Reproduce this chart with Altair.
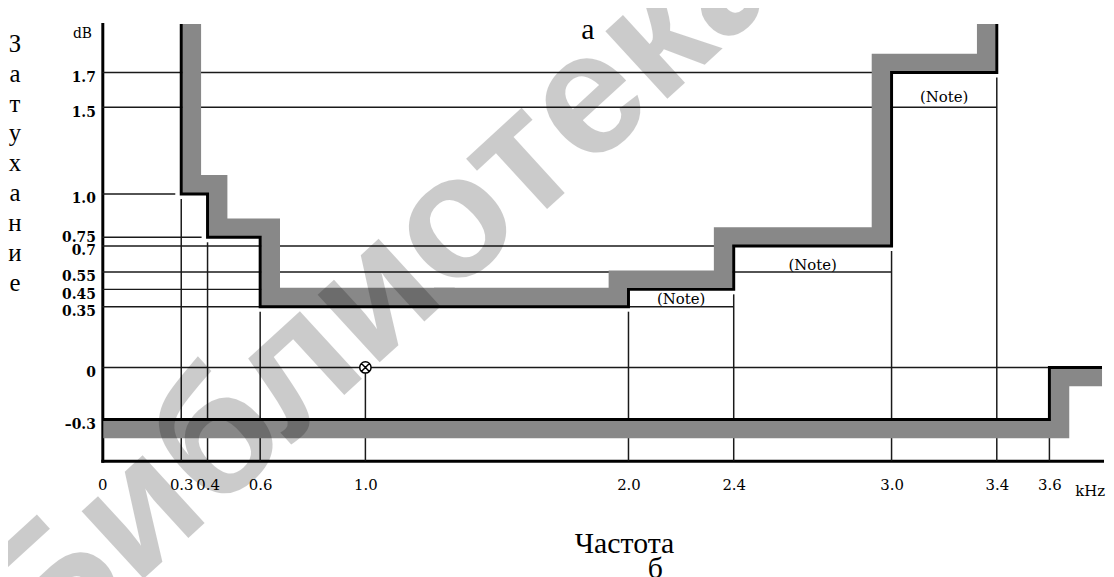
import altair as alt
import pandas as pd

# ---------------- data ----------------
X_MAX = 3.8
Y_MIN = -0.538
Y_MAX = 1.98

# upper mask (attenuation limit), breakpoints in kHz and levels in dB
upper_edges = [0.3, 0.4, 0.6, 2.0, 2.4, 3.0, 3.4]
upper_levels = [1.0, 0.75, 0.35, 0.45, 0.7, 1.7]
# lower mask
lower_edges = [0.0, 3.6, X_MAX]
lower_levels = [-0.3, 0.0]

# thin reference lines
h_short_level = [1.7, 1.0, 0.75, 0.45]
h_short_end = [3.0, 0.3, 0.4, 2.0]
h_full_level = [1.5, 0.7, 0.55, 0.35, 0.0]
h_full_end = [3.4, 3.0, 3.0, 2.4, 3.6]

v_short_f = [0.3, 0.4, 0.6, 2.0, 2.4, 3.0, 3.4]
v_short_top = [1.0, 0.75, 0.35, 0.35, 0.45, 0.7, 1.7]
v_full_f = [1.0, 3.6]
v_full_top = [0.0, -0.3]

note_f = [2.2, 2.7, 3.2]
note_db = [0.395, 0.59, 1.56]
note_text = ["(Note)", "(Note)", "(Note)"]

ref_f = [1.0]
ref_db = [0.0]

x_ticks = [0, 0.3, 0.4, 0.6, 1.0, 2.0, 2.4, 3.0, 3.4, 3.6]
y_ticks = [1.7, 1.5, 1.0, 0.75, 0.7, 0.55, 0.45, 0.35, 0.0, -0.3]
y_tick_labels = ["1.7", "1.5", "1.0", "0.75", "0.7", "0.55", "0.45", "0.35", "0", "\u20130.3"]

y_title_letters = ["З", "а", "т", "у", "х", "а", "н", "и", "е"]

# ---------------- build tables ----------------
upper_pts = [(upper_edges[0], Y_MAX)]
for i, lev in enumerate(upper_levels):
    upper_pts.append((upper_edges[i], lev))
    upper_pts.append((upper_edges[i + 1], lev))
upper_pts.append((upper_edges[-1], Y_MAX))

kmin = upper_levels.index(min(upper_levels))
split_f = (upper_edges[kmin] + upper_edges[kmin + 1]) / 2
split_idx = 2 * kmin + 1  # index of the left corner of the lowest plateau
desc_pts = upper_pts[: split_idx + 1] + [(split_f, upper_levels[kmin])]
asc_pts = [(split_f, upper_levels[kmin])] + upper_pts[split_idx + 1:]

lower_pts = []
for i, lev in enumerate(lower_levels):
    lower_pts.append((lower_edges[i], lev))
    lower_pts.append((lower_edges[i + 1], lev))


def df_pts(pts):
    return pd.DataFrame({"f": [p[0] for p in pts], "db": [p[1] for p in pts], "i": list(range(len(pts)))})


upper_df = df_pts(upper_pts)
desc_df = df_pts(desc_pts)
asc_df = df_pts(asc_pts)
lower_df = df_pts(lower_pts)

hs_df = pd.DataFrame({"f": 0.0, "f1": h_short_end, "db": h_short_level})
hf_df = pd.DataFrame({"f": 0.0, "f1": h_full_end, "db": h_full_level})
vs_df = pd.DataFrame({"f": v_short_f, "db": Y_MIN, "t": v_short_top})
vf_df = pd.DataFrame({"f": v_full_f, "db": Y_MIN, "t": v_full_top})
note_df = pd.DataFrame({"f": note_f, "db": note_db, "txt": note_text})
ref_df = pd.DataFrame({"f": ref_f, "db": ref_db})
one = pd.DataFrame({"a": [0]})

# ---------------- scales / axes ----------------
SERIF = "Liberation Serif"
AXF = "DejaVu Serif"
xs = alt.Scale(domain=[0, X_MAX], nice=False, zero=False)
ys = alt.Scale(domain=[Y_MIN, Y_MAX], nice=False, zero=False)

y_expr = ""
for v, lab in zip(y_ticks, y_tick_labels):
    y_expr += f"abs(datum.value - ({v})) < 0.001 ? '{lab}' : "
y_expr += "''"

x_axis = alt.Axis(
    values=x_ticks, labelExpr="datum.value == 0 ? '0' : format(datum.value, '.1f')",
    ticks=False, grid=False, domainColor="black", domainWidth=3, domainCap="square",
    labelFont=AXF, labelFontSize=15, labelColor="black", labelPadding=17,
    labelOverlap=False, labelFlush=False, title=None,
)
y_axis = alt.Axis(
    values=y_ticks, labelExpr=y_expr, ticks=False, grid=False, domainColor="black",
    domainWidth=3, domainCap="square", labelFont=AXF, labelFontSize=14,
    labelFontWeight="bold", labelColor="black", labelPadding=7, labelOverlap=False,
    labelFlush=False, title=None,
    labelOffset={"condition": {"test": "abs(datum.value - 0.75) < 0.001", "value": 0}, "value": 5},
)


def X(field):
    return alt.X(field, scale=xs, axis=x_axis)


def Y(field):
    return alt.Y(field, scale=ys, axis=y_axis)


GREY = "#888888"
LINE = "#1a1a1a"

rule_h_full = alt.Chart(hf_df).mark_rule(color=LINE, strokeWidth=1.5).encode(
    x=X("f:Q"), x2="f1:Q", y=Y("db:Q")
)
rule_h_short = alt.Chart(hs_df).mark_rule(color=LINE, strokeWidth=1.5, x2Offset=-6).encode(
    x=X("f:Q"), x2="f1:Q", y=Y("db:Q")
)
rule_v_short = alt.Chart(vs_df).mark_rule(color=LINE, strokeWidth=1.5, y2Offset=5).encode(
    x=X("f:Q"), y=Y("db:Q"), y2="t:Q"
)
rule_v_full = alt.Chart(vf_df).mark_rule(color=LINE, strokeWidth=1.5).encode(
    x=X("f:Q"), y=Y("db:Q"), y2="t:Q"
)


def band(df, dx, dy, cap):
    return alt.Chart(df).mark_line(
        color=GREY, strokeWidth=19, xOffset=dx, yOffset=dy, strokeJoin="miter",
        strokeCap=cap, clip=True,
    ).encode(x=X("f:Q"), y=Y("db:Q"), order="i:Q")


grey_desc = band(desc_df, 10.5, -9.5, "butt")
grey_asc = band(asc_df, -10.5, -9.5, "butt")
grey_low = band(lower_df, 10.5, 9.5, "square")


def black(df):
    return alt.Chart(df).mark_line(color="black", strokeWidth=3, strokeJoin="miter", clip=True).encode(
        x=X("f:Q"), y=Y("db:Q"), order="i:Q"
    )


black_up = black(upper_df)
black_low = black(lower_df)

notes = alt.Chart(note_df).mark_text(font=AXF, fontSize=15, color="black").encode(
    x=X("f:Q"), y=Y("db:Q"), text="txt:N"
)

otimes = "M -1 0 A 1 1 0 1 1 1 0 A 1 1 0 1 1 -1 0 Z M -0.7 -0.7 L 0.7 0.7 M -0.7 0.7 L 0.7 -0.7"
marker = alt.Chart(ref_df).mark_point(
    shape=otimes, size=130, filled=True, fill="white", stroke="black", strokeWidth=1.5, opacity=1
).encode(x=X("f:Q"), y=Y("db:Q"))


def label(txt, px, py, size, font=SERIF, **kw):
    return alt.Chart(one).mark_text(text=txt, font=font, fontSize=size, color="black", **kw).encode(
        x=alt.value(px), y=alt.value(py)
    )


t_db = label("dB", -20, 10, 14, font=AXF)
t_khz = label("kHz", 995, 470, 15, font=AXF)
t_a = label("а", 489, 6, 30)
t_b = label("б", 557, 549, 30)
t_freq = label("Частота", 526, 524, 30)
t_ytitle = label(y_title_letters, -88, 20, 25, lineHeight=30.1, baseline="middle")

watermark = alt.Chart(one).mark_text(
    text="Библиотека", font="Liberation Sans", fontSize=175, fontWeight="bold", angle=317.5,
    color="black", opacity=0.2, align="left", baseline="alphabetic",
).encode(x=alt.value(-60), y=alt.value(652))

chart = alt.layer(
    rule_h_full, rule_h_short, rule_v_short, rule_v_full,
    grey_desc, grey_asc, grey_low, black_up, black_low,
    marker, notes, t_db, t_khz, t_a, t_b, t_freq, t_ytitle, watermark,
).properties(
    width=1007, height=440,
    padding={"left": 95, "top": 14, "right": 4, "bottom": 115},
    autosize=alt.AutoSizeParams(type="none"),
).configure_view(stroke=None)

chart.save("out.html", embed_options={"renderer": "svg", "actions": False})
